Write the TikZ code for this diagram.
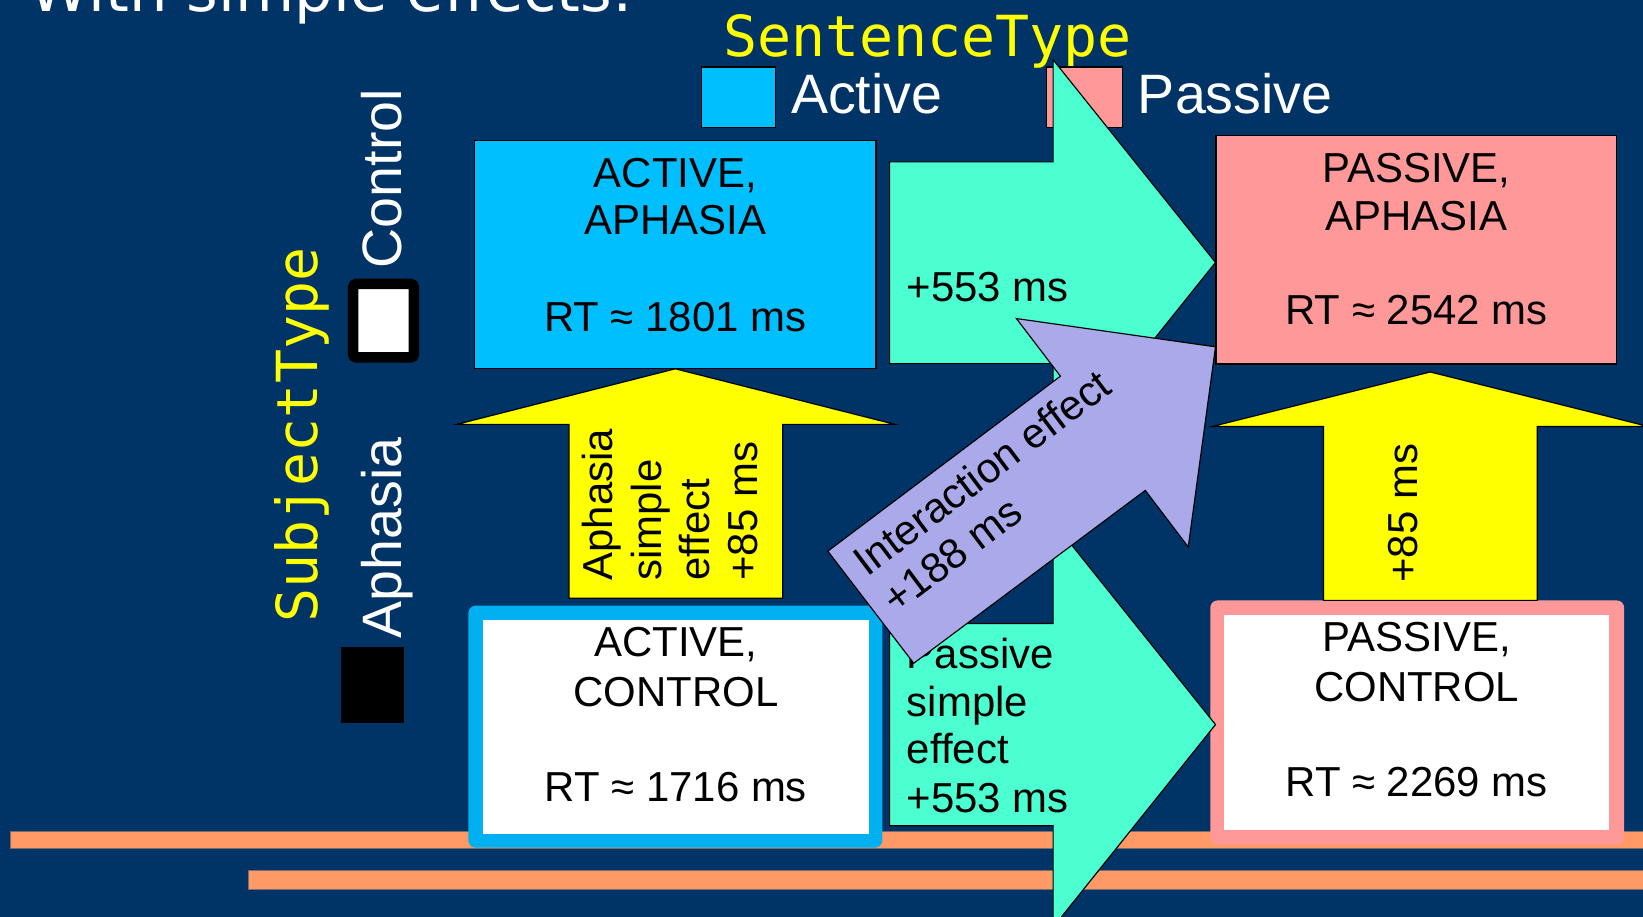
\documentclass[tikz,border=0pt]{standalone}
\usepackage{fontspec}
\setmainfont{Liberation Sans}
\newfontfamily\legmono{DejaVu Sans Mono}
\newfontfamily\titlefnt{DejaVu Sans}
\definecolor{bgnavy}{RGB}{0,51,102}
\definecolor{skyfill}{RGB}{0,191,255}
\definecolor{skyborder}{RGB}{0,176,240}
\definecolor{pinkfill}{RGB}{255,153,153}
\definecolor{aqua}{RGB}{76,255,208}
\definecolor{lav}{RGB}{170,170,235}
\definecolor{stripecol}{RGB}{255,153,102}
\definecolor{stripeedge}{RGB}{120,110,110}
\definecolor{yel}{RGB}{255,255,0}
\begin{document}
\begin{tikzpicture}[x=1pt,y=-1pt,
  boxline/.style={draw=black, line width=1.2pt, inner sep=0pt, outer sep=0pt},
  shapeline/.style={draw=black, line width=1.1pt, line join=miter},
  btxt/.style={inner sep=0pt, outer sep=0pt, anchor=base, font=\fontsize{40}{46}\selectfont, text=black},
  ltxt/.style={btxt, anchor=base west},
  legtxt/.style={inner sep=0pt, outer sep=0pt, anchor=base west, font=\fontsize{53}{60}\selectfont, text=white},
  typetxt/.style={inner sep=0pt, outer sep=0pt, anchor=base west, font=\legmono\fontsize{54}{60}\selectfont, text=yel},
  swatch/.style={draw=black, line width=1.2pt, inner sep=0pt, outer sep=0pt},
  stripebar/.style={fill=stripecol, draw=stripeedge, line width=0.8pt},
]
\useasboundingbox (0,0) rectangle (1568,875);
\clip (0,0) rectangle (1568,875);
\fill[bgnavy] (0,0) rectangle (1568,875);

% title (cut by the top edge)
\node[inner sep=0pt, anchor=base west, font=\titlefnt\fontsize{58}{64}\selectfont, text=white] (title) at (28,11) {With simple effects:};

% SentenceType legend
\node[typetxt] (senttype) at (690,54) {SentenceType};
\node[swatch, fill=skyfill, minimum width=70.5pt, minimum height=58pt] (actsw) at (704.75,93) {};
\node[legtxt] (actlab) at (755,108) {Active};
\node[swatch, fill=pinkfill, minimum width=72pt, minimum height=58pt] (passw) at (1035,93) {};
\node[legtxt] (paslab) at (1086,108) {Passive};

% SubjectType legend
\node[typetxt, rotate=90] (subjtype) at (303,594) {SubjectType};
\node[legtxt, rotate=90] (ctrllab) at (383,256) {Control};
\node[legtxt, rotate=90] (aphlab) at (383,609) {Aphasia};
\node[draw=black, line width=10pt, fill=white, rounded corners=3pt, minimum width=58pt, minimum height=70pt, inner sep=0pt, outer sep=0pt] (ctrlsw) at (366,306) {};
\node[fill=black, minimum width=61pt, minimum height=73pt, inner sep=0pt, outer sep=0pt] (aphsw) at (355.5,653.5) {};

% stripes
\draw[stripebar] (10,793) rectangle (1580,810);
\draw[stripebar] (237,831) rectangle (1580,849);

% cell boxes
\node[boxline, fill=skyfill, minimum width=383pt, minimum height=218pt] (actaph) at (644.5,243) {};
\node[btxt] (aa1) at (644.5,179) {ACTIVE,};
\node[btxt] (aa2) at (644.5,224) {APHASIA};
\node[btxt] (aa3) at (644.5,316) {RT ≈ 1801 ms};

\node[boxline, fill=pinkfill, minimum width=382.5pt, minimum height=218pt] (pasaph) at (1351.75,238.5) {};
\node[btxt] (pa1) at (1351.75,174) {PASSIVE,};
\node[btxt] (pa2) at (1351.75,219.5) {APHASIA};
\node[btxt] (pa3) at (1351.75,310) {RT ≈ 2542 ms};

\node[fill=skyborder, rounded corners=7pt, minimum width=395pt, minimum height=231pt, inner sep=0pt, outer sep=0pt] (actctrl) at (644.5,693.5) {};
\node[fill=white, minimum width=368pt, minimum height=204pt, inner sep=0pt, outer sep=0pt] (actctrlin) at (645,694) {};
\node[btxt] (ac1) at (645,627) {ACTIVE,};
\node[btxt] (ac2) at (645,674.5) {CONTROL};
\node[btxt] (ac3) at (645,765) {RT ≈ 1716 ms};

\node[fill=pinkfill, rounded corners=7pt, minimum width=395pt, minimum height=233pt, inner sep=0pt, outer sep=0pt] (pasctrl) at (1352.5,689.5) {};
\node[fill=white, minimum width=368pt, minimum height=205pt, inner sep=0pt, outer sep=0pt] (pasctrlin) at (1352,689.5) {};
\node[btxt] (pc1) at (1352,622) {PASSIVE,};
\node[btxt] (pc2) at (1352,669.5) {CONTROL};
\node[btxt] (pc3) at (1352,760) {RT ≈ 2269 ms};

% yellow up arrows (subject-type simple effects)
\draw[shapeline, fill=yel] (543,571) -- (543,405) -- (436,405) -- (actaph.south) -- (854,405) -- (747,405) -- (747,571) -- cycle;
\node[ltxt, rotate=90] (ya1) at (585,554) {Aphasia};
\node[ltxt, rotate=90] (ya2) at (631,554) {simple};
\node[ltxt, rotate=90] (ya3) at (677,554) {effect};
\node[ltxt, rotate=90] (ya4) at (723,554) {+85 ms};

\draw[shapeline, fill=yel] (1263,573) -- (1263,407) -- (1157,407) -- (1365,355) -- (1573,407) -- (1467,407) -- (1467,573) -- cycle;
\node[ltxt, rotate=90] (yb1) at (1353,556) {+85 ms};

% aqua right arrows (sentence-type simple effects)
\draw[shapeline, fill=aqua] (849,154.5) -- (1005,154.5) -- (1005,57) -- (1160,250.5) -- (1005,444) -- (1005,347) -- (849,347) -- cycle;
\node[ltxt] (ca1) at (865.5,288) {+553 ms};

\draw[shapeline, fill=aqua] (849,595) -- (1005,595) -- (1005,498) -- (1160,691.5) -- (1005,885) -- (1005,788) -- (849,788) -- cycle;
\node[ltxt] (cb1) at (865.5,637.7) {Passive};
\node[ltxt] (cb2) at (865.5,683.4) {simple};
\node[ltxt] (cb3) at (865.5,729) {effect};
\node[ltxt] (cb4) at (865.5,775.6) {+553 ms};

% interaction arrow
\draw[shapeline, fill=lav] (790,526) -- (1012,359) -- (970,304) -- (1160,331) -- (1134,522) -- (1093,468) -- (872,633) -- cycle;
\node[ltxt, rotate=37] (ia1) at (827.6,550.8) {Interaction effect};
\node[ltxt, rotate=37] (ia2) at (855.3,587.6) {+188 ms};
\end{tikzpicture}
\end{document}
